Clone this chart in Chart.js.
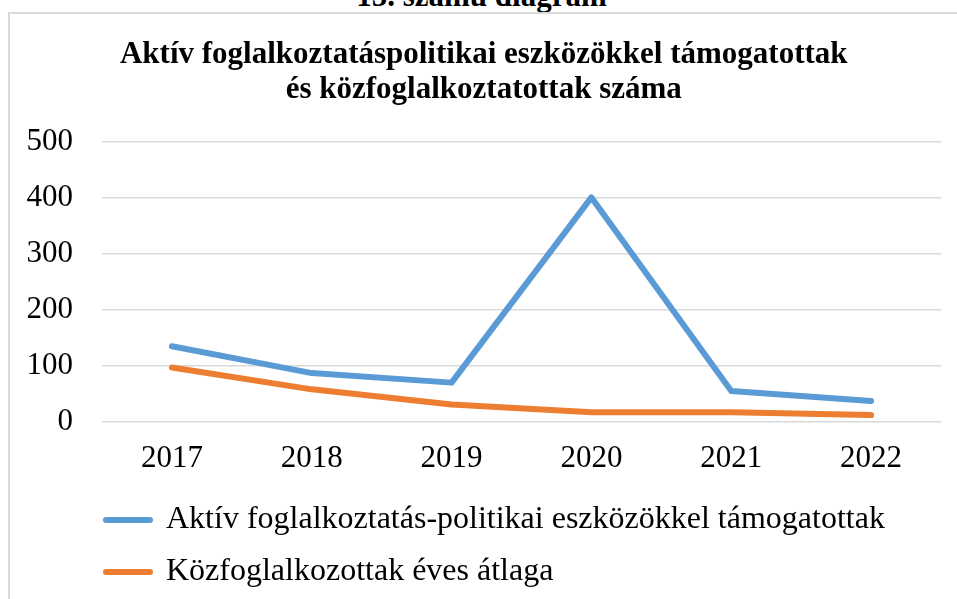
<!DOCTYPE html>
<html>
<head>
<meta charset="utf-8">
<script src="https://cdn.jsdelivr.net/npm/chart.js@4/dist/chart.umd.min.js"></script>
<style>
  html, body { margin: 0; padding: 0; background: #fff; overflow: hidden; }
  body { width: 957px; height: 599px; position: relative; }
  #caption {
    position: absolute; left: 3px; top: -20px; width: 957px;
    text-align: center; font: bold 31px/1 "Liberation Serif", serif; color: #000;
  }
  #frame {
    position: absolute; left: 8px; top: 12px; width: 2000px; height: 2000px;
    border-left: 2px solid #d9d9d9; border-top: 2px solid #d9d9d9;
  }
  #wrap { position: absolute; left: 0; top: 0; width: 957px; height: 599px; }
</style>
</head>
<body>
<div id="caption">15. számú diagram</div>
<div id="frame"></div>
<div id="wrap"><canvas id="canvas"></canvas></div>
<script>
var years = ['2017', '2018', '2019', '2020', '2021', '2022'];
var aktivTamogatottak = [135, 87, 70, 401, 55, 37];
var kozfoglalkoztatottak = [97, 58, 31, 17, 17, 12];
var yTicks = [0, 100, 200, 300, 400, 500];

var serif = '"Liberation Serif", "Times New Roman", serif';

// move the legend rows in under the plot, like the original
var legendShift = {
  id: 'legendShift',
  afterLayout: function (chart) {
    chart.legend.left = chart.chartArea.left - 16;
  }
};

var options = {
  type: 'line',
  data: {
    labels: years,
    datasets: [
      {
        label: 'Aktív foglalkoztatás-politikai eszközökkel támogatottak',
        data: aktivTamogatottak,
        borderColor: '#5b9bd5',
        backgroundColor: '#5b9bd5',
        borderWidth: 6,
        borderCapStyle: 'round',
        borderJoinStyle: 'round',
        pointRadius: 0,
        tension: 0
      },
      {
        label: 'Közfoglalkozottak éves átlaga',
        data: kozfoglalkoztatottak,
        borderColor: '#ed7d31',
        backgroundColor: '#ed7d31',
        borderWidth: 6,
        borderCapStyle: 'round',
        borderJoinStyle: 'round',
        pointRadius: 0,
        tension: 0
      }
    ]
  },
  options: {
    responsive: true,
    maintainAspectRatio: false,
    animation: false,
    layout: { padding: { top: 14, left: 26.5, right: 16, bottom: 1 } },
    scales: {
      x: {
        offset: true,
        grid: { display: false, drawTicks: false },
        border: { display: false },
        ticks: { color: '#000', font: { family: serif, size: 31 }, padding: 18 },
        // tick padding counts twice in the axis height, take some back
        afterFit: function (scale) { scale.height -= 11; }
      },
      y: {
        min: yTicks[0],
        max: yTicks[yTicks.length - 1],
        afterBuildTicks: function (scale) {
          scale.ticks = yTicks.map(function (v) { return { value: v }; });
        },
        grid: { color: '#d9d9d9', lineWidth: 1.5, drawTicks: false },
        border: { display: false },
        ticks: { color: '#000', font: { family: serif, size: 31 }, padding: 29 },
        afterFit: function (scale) { scale.width -= 29; }
      }
    },
    plugins: {
      title: {
        display: true,
        text: ['Aktív foglalkoztatáspolitikai eszközökkel támogatottak', 'és közfoglalkoztatottak száma'],
        color: '#000',
        font: { family: serif, size: 31, weight: 'bold', lineHeight: 35 / 31 },
        padding: { top: 23, bottom: 35 }
      },
      legend: {
        position: 'bottom',
        align: 'start',
        labels: {
          color: '#000',
          font: { family: serif, size: 32 },
          boxWidth: 44,
          boxHeight: 0,
          padding: 20
        }
      },
      tooltip: { enabled: false }
    }
  },
  plugins: [legendShift]
};

var ctx = document.getElementById('canvas').getContext('2d');
new Chart(ctx, options);
</script>
</body>
</html>
